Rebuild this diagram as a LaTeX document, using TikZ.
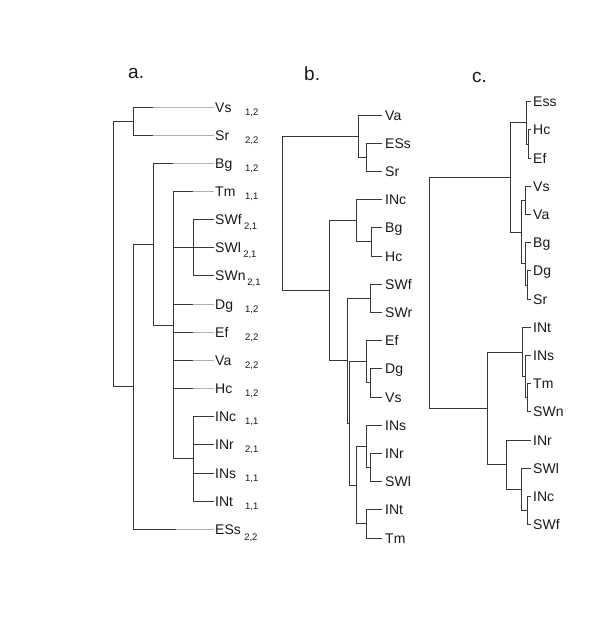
\documentclass[tikz,border=0pt]{standalone}
\usepackage{fontspec}
\setmainfont{Liberation Sans}
\definecolor{linecol}{RGB}{55,55,55}
\definecolor{lightlf}{RGB}{168,180,180}
\definecolor{labcol}{RGB}{25,25,25}
\tikzset{
  edge/.style={draw=linecol, line width=1pt},
  lightedge/.style={draw=lightlf, line width=1pt},
  leaflab/.style={anchor=west, inner ysep=0pt, inner xsep=#1, text height=10pt, text depth=0pt, font=\fontsize{14}{14}\selectfont, text=labcol},
  leaflab/.default=1pt,
  subs/.style={anchor=base west, inner sep=0pt, font=\fontsize{9.5}{10}\selectfont, text=labcol},
  ttl/.style={anchor=base west, inner sep=0pt, font=\fontsize{19}{19}\selectfont, text=labcol}
}
\begin{document}
\begin{tikzpicture}[x=1pt,y=-1pt]
\useasboundingbox (0,0) rectangle (600,630);
\fill[white] (0,0) rectangle (600,630);

% titles
\node[ttl] (ta) at (128,78.5) {a.};
\node[ttl] (tb) at (304,80.5) {b.};
\node[ttl] (tc) at (472,82.5) {c.};

% ================= tree a =================
\foreach \n/\y/\t in {aVs/107/Vs, aSr/135.2/Sr, aBg/163.3/Bg, aTm/191.5/Tm, aSWf/219.6/SWf, aSWl/247.8/SWl, aSWn/275.9/SWn, aDg/304.1/Dg, aEf/332.2/Ef, aVa/360.4/Va, aHc/388.5/Hc, aINc/416.7/INc, aINr/444.8/INr, aINs/473.0/INs, aINt/501.1/INt, aESs/529.3/ESs}
  {\node[leaflab=1pt] (\n) at (214,\y) {\t};}

% subscripts
\foreach \y/\s in {107/{1,2}, 135.2/{2,2}, 163.3/{1,2}, 191.5/{1,1}, 304.1/{1,2}, 332.2/{2,2}, 360.4/{2,2}, 388.5/{1,2}, 416.7/{1,1}, 444.8/{2,1}, 473.0/{1,1}, 501.1/{1,1}}
  {\node[subs] at (245,\y+8) {\s};}
\node[subs] (sSWf) at ([xshift=1pt,yshift=-10pt]aSWf.east) {2,1};
\node[subs] (sSWl) at ([xshift=1pt,yshift=-10pt]aSWl.east) {2,1};
\node[subs] (sSWn) at ([xshift=0.5pt,yshift=-10pt]aSWn.east) {2,1};
\node[subs] (sESs) at ([xshift=2pt,yshift=-11pt]aESs.east) {2,2};

% internal nodes
\coordinate (aVS) at (133,121.1);
\coordinate (aSW) at (193,247.8);
\coordinate (aIN) at (193,458.9);
\coordinate (aM) at (173,325.2);
\coordinate (aL) at (153,244.2);
\coordinate (aK) at (133,386.7);
\coordinate (aR) at (113,253.9);

% dark ends of padded leaves
\coordinate (aVs-d) at (153,107);
\coordinate (aSr-d) at (153,135.2);
\coordinate (aBg-d) at (173,163.3);
\coordinate (aTm-d) at (193,191.5);
\coordinate (aDg-d) at (193,304.1);
\coordinate (aEf-d) at (193,332.2);
\coordinate (aVa-d) at (193,360.4);
\coordinate (aHc-d) at (193,388.5);
\coordinate (aESs-d) at (176,529.3);

\foreach \n in {aVs,aSr,aBg,aTm,aDg,aEf,aVa,aHc,aESs}
  {\draw[lightedge] (\n-d) -- (\n.west);}

\draw[edge] (aR) |- (aVS);
\draw[edge] (aR) |- (aK);
\draw[edge] (aVS) |- (aVs-d);
\draw[edge] (aVS) |- (aSr-d);
\draw[edge] (aK) |- (aL);
\draw[edge] (aK) |- (aESs-d);
\draw[edge] (aL) |- (aBg-d);
\draw[edge] (aL) |- (aM);
\draw[edge] (aM) |- (aTm-d);
\draw[edge] (aM) |- (aSW);
\draw[edge] (aM) |- (aDg-d);
\draw[edge] (aM) |- (aEf-d);
\draw[edge] (aM) |- (aVa-d);
\draw[edge] (aM) |- (aHc-d);
\draw[edge] (aM) |- (aIN);
\foreach \n in {aSWf,aSWl,aSWn} {\draw[edge] (aSW) |- (\n.west);}
\foreach \n in {aINc,aINr,aINs,aINt} {\draw[edge] (aIN) |- (\n.west);}

% ================= tree b =================
\foreach \n/\y/\t in {bVa/115/Va, bESs/143.2/ESs, bSr/171.4/Sr, bINc/199.6/INc, bBg/227.8/Bg, bHc/256/Hc, bSWf/284.2/SWf, bSWr/312.4/SWr, bEf/340.6/Ef, bDg/368.8/Dg, bVs/397/Vs, bINs/425.2/INs, bINr/453.4/INr, bSWl/481.6/SWl, bINt/509.8/INt, bTm/538/Tm}
  {\node[leaflab=3pt] (\n) at (382,\y) {\t};}

\coordinate (bQ) at (366,157.3);
\coordinate (bP) at (358,136.2);
\coordinate (bU) at (371,241.9);
\coordinate (bS) at (356,220.8);
\coordinate (bV) at (370,298.3);
\coordinate (bZ) at (370,382.9);
\coordinate (bX) at (366,361.8);
\coordinate (bCC) at (370,467.5);
\coordinate (bAA) at (366,446.4);
\coordinate (bBB) at (366,523.9);
\coordinate (bY) at (356,485.2);
\coordinate (bW) at (349,423.5);
\coordinate (bT) at (347,360.9);
\coordinate (bR) at (329,290.9);
\coordinate (bRoot) at (282,213.5);

\draw[edge] (bRoot) |- (bP);
\draw[edge] (bRoot) |- (bR);
\draw[edge] (bP) |- (bVa.west);
\draw[edge] (bP) |- (bQ);
\draw[edge] (bQ) |- (bESs.west);
\draw[edge] (bQ) |- (bSr.west);
\draw[edge] (bR) |- (bS);
\draw[edge] (bR) |- (bT);
\draw[edge] (bS) |- (bINc.west);
\draw[edge] (bS) |- (bU);
\draw[edge] (bU) |- (bBg.west);
\draw[edge] (bU) |- (bHc.west);
\draw[edge] (bT) |- (bV);
\draw[edge] (bT) |- (bW);
\draw[edge] (bV) |- (bSWf.west);
\draw[edge] (bV) |- (bSWr.west);
\draw[edge] (bW) |- (bX);
\draw[edge] (bW) |- (bY);
\draw[edge] (bX) |- (bEf.west);
\draw[edge] (bX) |- (bZ);
\draw[edge] (bZ) |- (bDg.west);
\draw[edge] (bZ) |- (bVs.west);
\draw[edge] (bY) |- (bAA);
\draw[edge] (bY) |- (bBB);
\draw[edge] (bAA) |- (bINs.west);
\draw[edge] (bAA) |- (bCC);
\draw[edge] (bCC) |- (bINr.west);
\draw[edge] (bCC) |- (bSWl.west);
\draw[edge] (bBB) |- (bINt.west);
\draw[edge] (bBB) |- (bTm.west);

% ================= tree c =================
\foreach \n/\y/\t in {cEss/101.7/Ess, cHc/129.9/Hc, cEf/158.1/Ef, cVs/186.3/Vs, cVa/214.5/Va, cBg/242.7/Bg, cDg/270.9/Dg, cSr/299.1/Sr, cINt/327.3/INt, cINs/355.5/INs, cTm/383.7/Tm, cSWn/411.9/SWn, cINr/440.1/INr, cSWl/468.3/SWl, cINc/496.5/INc, cSWf/524.7/SWf}
  {\node[leaflab=2.5pt] (\n) at (530.5,\y) {\t};}

\coordinate (cA2) at (528,144);
\coordinate (cA) at (526,122.9);
\coordinate (cB1) at (525,200.4);
\coordinate (cB3) at (527.5,285);
\coordinate (cB2) at (525,263.9);
\coordinate (cB) at (521,232.1);
\coordinate (cT1) at (510,177.5);
\coordinate (cE) at (527.5,397.8);
\coordinate (cD) at (525.5,376.7);
\coordinate (cC) at (522,352);
\coordinate (cH) at (527,510.6);
\coordinate (cG) at (521,489.5);
\coordinate (cF) at (506,464.8);
\coordinate (cT2) at (487,408.4);
\coordinate (cRoot) at (429,293);

\draw[edge] (cRoot) |- (cT1);
\draw[edge] (cRoot) |- (cT2);
\draw[edge] (cT1) |- (cA);
\draw[edge] (cT1) |- (cB);
\draw[edge] (cA) |- (cEss.west);
\draw[edge] (cA) |- (cA2);
\draw[edge] (cA2) |- (cHc.west);
\draw[edge] (cA2) |- (cEf.west);
\draw[edge] (cB) |- (cB1);
\draw[edge] (cB) |- (cB2);
\draw[edge] (cB1) |- (cVs.west);
\draw[edge] (cB1) |- (cVa.west);
\draw[edge] (cB2) |- (cBg.west);
\draw[edge] (cB2) |- (cB3);
\draw[edge] (cB3) |- (cDg.west);
\draw[edge] (cB3) |- (cSr.west);
\draw[edge] (cT2) |- (cC);
\draw[edge] (cT2) |- (cF);
\draw[edge] (cC) |- (cINt.west);
\draw[edge] (cC) |- (cD);
\draw[edge] (cD) |- (cINs.west);
\draw[edge] (cD) |- (cE);
\draw[edge] (cE) |- (cTm.west);
\draw[edge] (cE) |- (cSWn.west);
\draw[edge] (cF) |- (cINr.west);
\draw[edge] (cF) |- (cG);
\draw[edge] (cG) |- (cSWl.west);
\draw[edge] (cG) |- (cH);
\draw[edge] (cH) |- (cINc.west);
\draw[edge] (cH) |- (cSWf.west);
\end{tikzpicture}
\end{document}
